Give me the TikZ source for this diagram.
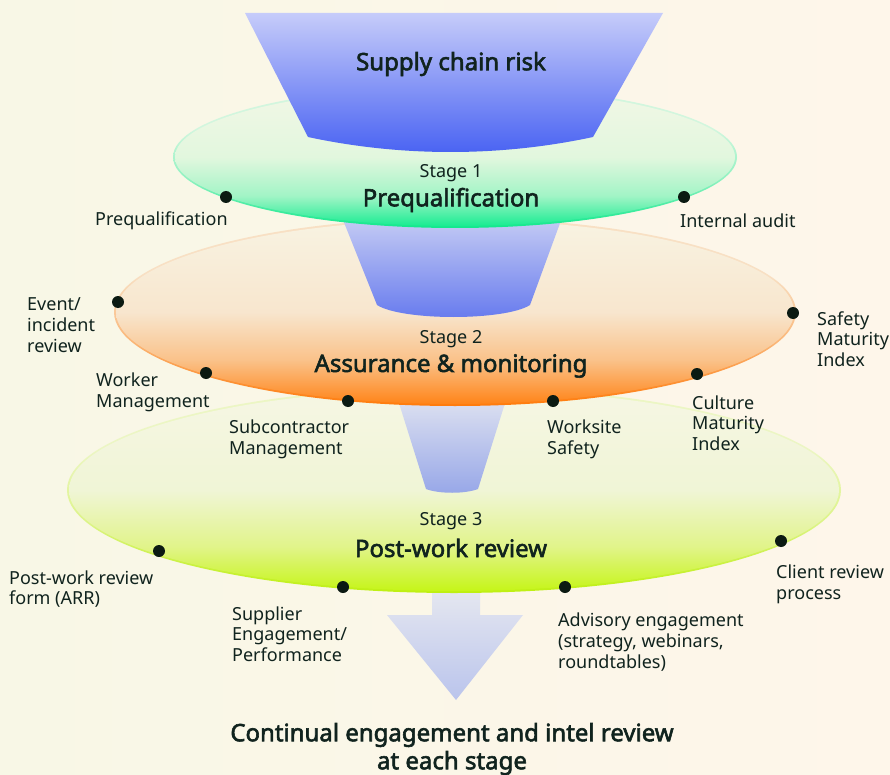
\documentclass[tikz,border=0pt]{standalone}
\usepackage{fontspec}
\setmainfont{Noto Sans}
\newfontfamily\boldfnt{Noto Sans}[FakeBold=2.4]
\definecolor{txt}{HTML}{10231E}
\definecolor{dotc}{HTML}{0B1A12}
\definecolor{bgl}{HTML}{F8F7E6}
\definecolor{bgr}{HTML}{FEF6EA}
% ellipse 1 (green)
\definecolor{gA}{HTML}{18EC92}\definecolor{gB}{HTML}{A2F4C6}\definecolor{gC}{HTML}{E2F7DE}\definecolor{gD}{HTML}{F2F7E6}
\definecolor{gE}{HTML}{10E88C}\definecolor{gF}{HTML}{8EF2C0}\definecolor{gG}{HTML}{D2F6DE}
% ellipse 2 (orange)
\definecolor{oA}{HTML}{FF8418}\definecolor{oB}{HTML}{FAC28A}\definecolor{oC}{HTML}{F8E6CE}\definecolor{oD}{HTML}{F8F3E2}
\definecolor{oE}{HTML}{FF7A0A}\definecolor{oF}{HTML}{FBB677}\definecolor{oG}{HTML}{F8E0C4}
% ellipse 3 (lime)
\definecolor{yA}{HTML}{C6F518}\definecolor{yB}{HTML}{E1F48A}\definecolor{yC}{HTML}{F0F5D6}\definecolor{yD}{HTML}{F6F6E4}
\definecolor{yE}{HTML}{BEF010}\definecolor{yF}{HTML}{DCF486}\definecolor{yG}{HTML}{ECF6C4}
\pgfdeclareverticalshading{ellG}{100bp}{color(0bp)=(gA); color(25bp)=(gA); color(36bp)=(gB); color(50bp)=(gC); color(75bp)=(gD); color(100bp)=(gD)}
\pgfdeclareverticalshading{ellGb}{100bp}{color(0bp)=(gE); color(25bp)=(gE); color(42bp)=(gF); color(60bp)=(gG); color(75bp)=(gG); color(100bp)=(gG)}
\pgfdeclareverticalshading{ellO}{100bp}{color(0bp)=(oA); color(25bp)=(oA); color(37bp)=(oB); color(50bp)=(oC); color(75bp)=(oD); color(100bp)=(oD)}
\pgfdeclareverticalshading{ellOb}{100bp}{color(0bp)=(oE); color(25bp)=(oE); color(42bp)=(oF); color(60bp)=(oG); color(75bp)=(oG); color(100bp)=(oG)}
\pgfdeclareverticalshading{ellY}{100bp}{color(0bp)=(yA); color(25bp)=(yA); color(36bp)=(yB); color(50bp)=(yC); color(75bp)=(yD); color(100bp)=(yD)}
\pgfdeclareverticalshading{ellYb}{100bp}{color(0bp)=(yE); color(25bp)=(yE); color(42bp)=(yF); color(60bp)=(yG); color(75bp)=(yG); color(100bp)=(yG)}
\definecolor{f1t}{HTML}{C6CCFA}\definecolor{f1b}{HTML}{4660F2}
\definecolor{f2t}{HTML}{C8CEF4}\definecolor{f2b}{HTML}{6579EE}
\definecolor{f3t}{HTML}{DCE0F0}\definecolor{f3b}{HTML}{97A7E8}
\definecolor{art}{HTML}{E6E8F0}\definecolor{arb}{HTML}{BAC4EC}
\begin{document}
\begin{tikzpicture}[x=1pt,y=-1pt,
  lbl/.style={anchor=west,align=left,inner sep=0pt,text=txt,font=\fontsize{18}{20.7}\selectfont},
  stg/.style={inner sep=0pt,text=txt,font=\fontsize{18}{21}\selectfont},
  ttl/.style={inner sep=0pt,text=txt,font=\boldfnt\fontsize{24}{28}\selectfont},
  dot/.style={circle,fill=dotc,inner sep=0pt,minimum size=12pt}]
\useasboundingbox (0,0) rectangle (890,775);
\shade[left color=bgl,right color=bgr] (0,0) rectangle (890,775);
% arrow
\shade[top color=art,bottom color=arb]
  (432,588) -- (480,588) -- (480,615) -- (523,615) -- (456,700) -- (387,615) -- (432,615) -- cycle;
% ellipse 3
\shade[shading=ellYb] (454,490) ellipse [x radius=387pt,y radius=103pt];
\shade[shading=ellY] (454,490) ellipse [x radius=385pt,y radius=101pt];
% funnel 3
\shade[top color=f3t,bottom color=f3b]
  (398,400) -- (506,400) -- (478,489) .. controls (465,494) and (439,494) .. (426,489) -- cycle;
% ellipse 2
\shade[shading=ellOb] (455,312) ellipse [x radius=341pt,y radius=94pt];
\shade[shading=ellO] (455,312) ellipse [x radius=339pt,y radius=92pt];
% funnel 2
\shade[top color=f2t,bottom color=f2b]
  (341,215) -- (563,215) -- (530,305) .. controls (505,321) and (402,321) .. (377,305) -- cycle;
% ellipse 1
\shade[shading=ellGb] (455,157) ellipse [x radius=282pt,y radius=71pt];
\shade[shading=ellG] (455,157) ellipse [x radius=280pt,y radius=69pt];
% funnel 1
\shade[top color=f1t,bottom color=f1b]
  (245,13) -- (663,13) -- (593,137) .. controls (500,157) and (401,157) .. (308,137) -- cycle;
% titles
\node[ttl] (risk) at (451,64) {Supply chain risk};
\node[stg] (s1) at (451,173) {Stage 1};
\node[ttl] (t1) at (451,200) {Prequalification};
\node[stg] (s2) at (451,339) {Stage 2};
\node[ttl] (t2) at (451,366) {Assurance \& monitoring};
\node[stg] (s3) at (451,521) {Stage 3};
\node[ttl] (t3) at (451,548) {Post-work review};
\node[ttl,align=center] (bottom) at (452,749) {Continual engagement and intel review\\at each stage};
% dots
\node[dot] (d1) at (226,197) {};
\node[dot] (d2) at (684,197) {};
\node[dot] (d3) at (118,302) {};
\node[dot] (d4) at (793,313) {};
\node[dot] (d5) at (206,373) {};
\node[dot] (d6) at (348,401) {};
\node[dot] (d7) at (553,401) {};
\node[dot] (d8) at (697,374) {};
\node[dot] (d9) at (159,551) {};
\node[dot] (d10) at (343,587) {};
\node[dot] (d11) at (565,587) {};
\node[dot] (d12) at (781,541) {};
% labels
\node[lbl] (l1) at (95,221) {Prequalification};
\node[lbl] (l2) at (680,221) {Internal audit};
\node[lbl] (l3) at (27,325) {Event/\\incident\\review};
\node[lbl] (l4) at (817,339) {Safety\\Maturity\\Index};
\node[lbl] (l5) at (96,392) {Worker\\Management};
\node[lbl] (l6) at (229,439) {Subcontractor\\Management};
\node[lbl] (l7) at (547,439) {Worksite\\Safety};
\node[lbl] (l8) at (692,423) {Culture\\Maturity\\Index};
\node[lbl] (l9) at (9,589) {Post-work review\\form (ARR)};
\node[lbl] (l10) at (232,634) {Supplier\\Engagement/\\Performance};
\node[lbl] (l11) at (558,642) {Advisory engagement\\(strategy, webinars,\\roundtables)};
\node[lbl] (l12) at (776,584) {Client review\\process};
\end{tikzpicture}
\end{document}
